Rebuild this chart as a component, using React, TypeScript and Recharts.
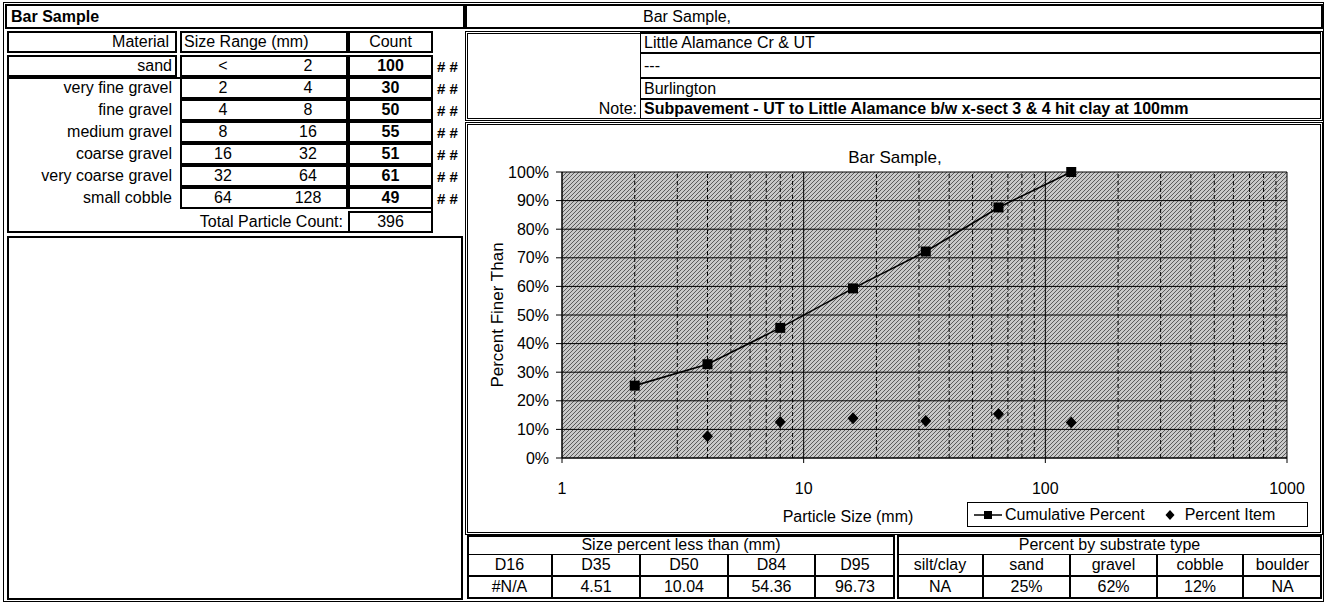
import React from 'react';
import { ComposedChart, Line, XAxis, YAxis, CartesianGrid, ReferenceLine, Legend } from 'recharts';

const FONT = 'Arial, "Liberation Sans", Helvetica, sans-serif';

// ---- data ----
const materials = ['sand', 'very fine gravel', 'fine gravel', 'medium gravel', 'coarse gravel', 'very coarse gravel', 'small cobble'];
const sizeLow = ['<', '2', '4', '8', '16', '32', '64'];
const sizeHigh = ['2', '4', '8', '16', '32', '64', '128'];
const counts = [100, 30, 50, 55, 51, 61, 49];
const totalCount = 396;

const infoLines = ['Little Alamance Cr & UT', '---', 'Burlington'];
const noteText = 'Subpavement - UT to Little Alamance b/w x-sect 3 & 4 hit clay at 100mm';

const sizes = [2, 4, 8, 16, 32, 64, 128];
const cumulativePercent = [25.3, 32.8, 45.5, 59.3, 72.2, 87.6, 100];
const percentItem = [null, 7.6, 12.6, 13.9, 12.9, 15.4, 12.4];

const xTicks = [1, 10, 100, 1000];
const yTicks = [0, 10, 20, 30, 40, 50, 60, 70, 80, 90, 100];
const majorX = [1, 10, 100, 1000];
const minorX = [2, 3, 4, 5, 6, 7, 8, 9, 20, 30, 40, 50, 60, 70, 80, 90, 200, 300, 400, 500, 600, 700, 800, 900];

const dLabels = ['D16', 'D35', 'D50', 'D84', 'D95'];
const dValues = ['#N/A', '4.51', '10.04', '54.36', '96.73'];
const subLabels = ['silt/clay', 'sand', 'gravel', 'cobble', 'boulder'];
const subValues = ['NA', '25%', '62%', '12%', 'NA'];

const chartData = sizes.map((s, i) => ({ size: s, cum: cumulativePercent[i], item: percentItem[i] }));

// ---- helpers ----
type CellProps = {
  x: number; y: number; w: number; h: number; children?: React.ReactNode;
  align?: 'left' | 'right' | 'center'; bold?: boolean; border?: string; pad?: number; size?: number;
};
function Cell({ x, y, w, h, children, align = 'center', bold = false, border = 'none', pad = 3, size = 16 }: CellProps) {
  return (
    <div
      style={{
        position: 'absolute', left: x, top: y, width: w, height: h, boxSizing: 'border-box', border,
        display: 'flex', alignItems: 'center',
        justifyContent: align === 'left' ? 'flex-start' : align === 'right' ? 'flex-end' : 'center',
        padding: `0 ${pad}px`, fontFamily: FONT, fontSize: size, fontWeight: bold ? 'bold' : 'normal',
        whiteSpace: 'nowrap', lineHeight: 1, color: '#000',
      }}
    >
      {children}
    </div>
  );
}

const SquareDot = (props: any) => {
  const { cx, cy, index } = props;
  if (cx == null || cy == null) return <g key={`s${index}`} />;
  return <rect key={`s${index}`} x={cx - 5} y={cy - 5} width={10} height={10} fill="#000" />;
};
const DiamondDot = (props: any) => {
  const { cx, cy, index, value } = props;
  if (cx == null || cy == null || value == null) return <g key={`d${index}`} />;
  return <path key={`d${index}`} d={`M${cx},${cy - 6} L${cx + 5.5},${cy} L${cx},${cy + 6} L${cx - 5.5},${cy} Z`} fill="#000" />;
};

const LegendBox = (props: any) => {
  const payload = props.payload || [];
  return (
    <div style={{ border: '1px solid #000', height: 25, boxSizing: 'border-box', display: 'flex', alignItems: 'center', background: '#fff', fontFamily: FONT, fontSize: 16, paddingLeft: 6 }}>
      {payload.map((p: any, i: number) => (
        <div key={i} style={{ display: 'flex', alignItems: 'center', marginRight: 10 }}>
          {p.dataKey === 'cum' ? (
            <svg width={28} height={12} style={{ marginRight: 3 }}>
              <line x1={0} y1={6} x2={28} y2={6} stroke="#000" strokeWidth={1.5} />
              <rect x={10} y={2} width={8} height={8} fill="#000" />
            </svg>
          ) : (
            <svg width={14} height={12} style={{ marginLeft: 8, marginRight: 8 }}>
              <path d="M7,1 L11.5,6 L7,11 L2.5,6 Z" fill="#000" />
            </svg>
          )}
          <span>{p.value}</span>
        </div>
      ))}
    </div>
  );
};

export default function App() {
  const rowY = (i: number) => 55 + i * 22;
  return (
    <div style={{ position: 'absolute', left: 0, top: 0, width: 1326, height: 605, background: '#fff', overflow: 'hidden' }}>
      <svg width={0} height={0} style={{ position: 'absolute' }}>
        <defs>
          <pattern id="stipple" width={4} height={4} patternUnits="userSpaceOnUse">
            <rect width={4} height={4} fill="#c8c8c8" />
            <path d="M-1,1 l2,-2 M0,4 l4,-4 M3,5 l2,-2" stroke="#5c5c5c" strokeWidth={1} />
          </pattern>
        </defs>
      </svg>

      {/* outer frame */}
      <div style={{ position: 'absolute', left: 3, top: 2, width: 1321, height: 600, border: '1px solid #000', boxSizing: 'border-box' }} />

      {/* top header row */}
      <Cell x={5} y={4} w={460} h={25} align="left" bold pad={4} border="2px solid #000">Bar Sample</Cell>
      <Cell x={465} y={4} w={858} h={25} align="left" pad={0} border="2px solid #000">
        <span style={{ marginLeft: 176 }}>Bar Sample,</span>
      </Cell>

      {/* left table header */}
      <Cell x={7} y={31} w={170} h={22} align="right" pad={6} border="2px solid #000">Material</Cell>
      <Cell x={180} y={31} w={168} h={22} align="left" pad={2} border="2px solid #000">Size Range (mm)</Cell>
      <Cell x={348} y={31} w={85} h={22} border="2px solid #000">Count</Cell>

      {/* material column frames */}
      <Cell x={7} y={55} w={170} h={22} border="2px solid #000" />
      <Cell x={7} y={77} w={426} h={156} border="2px solid #000" />

      {materials.map((m, i) => (
        <React.Fragment key={m}>
          <Cell x={7} y={rowY(i)} w={170} h={22} align="right" pad={5}>{m}</Cell>
          <Cell x={180} y={rowY(i)} w={168} h={22} border="2px solid #000" />
          <Cell x={198} y={rowY(i)} w={50} h={22}>{sizeLow[i]}</Cell>
          <Cell x={283} y={rowY(i)} w={50} h={22}>{sizeHigh[i]}</Cell>
          <Cell x={348} y={rowY(i)} w={85} h={22} bold border="2px solid #000">{counts[i]}</Cell>
          <Cell x={435} y={rowY(i)} w={26} h={22} align="left" pad={2} size={15} bold># #</Cell>
        </React.Fragment>
      ))}
      <Cell x={7} y={211} w={341} h={22} align="right" pad={5}>Total Particle Count:</Cell>
      <Cell x={348} y={211} w={85} h={22} border="2px solid #000">{totalCount}</Cell>

      {/* left empty box */}
      <div style={{ position: 'absolute', left: 7, top: 236, width: 456, height: 364, border: '2px solid #000', boxSizing: 'border-box' }} />

      {/* info block */}
      <div style={{ position: 'absolute', left: 465, top: 31, width: 858, height: 90, border: '3px double #000', boxSizing: 'border-box' }} />
      {infoLines.map((t, i) => {
        const ys = [32, 53, 78];
        const hs = [21, 25, 21];
        return (
          <Cell key={i} x={640} y={ys[i]} w={681} h={hs[i]} align="left" border="1px solid #000">{t}</Cell>
        );
      })}
      <Cell x={468} y={99} w={172} h={20} align="right" pad={3}>Note:</Cell>
      <Cell x={640} y={99} w={681} h={20} align="left" bold border="1px solid #000">{noteText}</Cell>

      {/* chart frame */}
      <div style={{ position: 'absolute', left: 465, top: 122, width: 858, height: 413, border: '3px double #000', boxSizing: 'border-box' }} />
      <div style={{ position: 'absolute', left: 465, top: 122 }}>
        <ComposedChart width={858} height={413} data={chartData} margin={{ top: 50, right: 36, bottom: 0, left: 0 }}>
          <CartesianGrid vertical={false} stroke="#000" strokeWidth={1} fill="url(#stipple)" fillOpacity={1} />
          <XAxis
            dataKey="size" type="number" scale="log" domain={[1, 1000]} ticks={xTicks} allowDataOverflow
            height={77} tickSize={5} tickMargin={20} stroke="#000"
            tick={{ fill: '#000', fontSize: 16, fontFamily: FONT }}
          />
          <YAxis
            type="number" domain={[0, 100]} ticks={yTicks} tickFormatter={(v: number) => `${v}%`}
            width={97} tickSize={6} tickMargin={7} stroke="#000" interval={0}
            tick={{ fill: '#000', fontSize: 16, fontFamily: FONT }}
            label={{ value: 'Percent Finer Than', angle: -90, position: 'insideLeft', offset: 32, style: { textAnchor: 'middle', fill: '#000', fontSize: 17, fontFamily: FONT } }}
          />
          {minorX.map((v) => (
            <ReferenceLine key={`mn${v}`} x={v} stroke="#000" strokeWidth={1} strokeDasharray="4 3" />
          ))}
          {majorX.map((v) => (
            <ReferenceLine key={`mj${v}`} x={v} stroke="#000" strokeWidth={1} />
          ))}
          <Line dataKey="cum" name="Cumulative Percent" stroke="#000" strokeWidth={1.6} dot={SquareDot} isAnimationActive={false} />
          <Line dataKey="item" name="Percent Item" stroke="none" dot={DiamondDot} activeDot={false} isAnimationActive={false} />
          <Legend
            content={LegendBox} layout="horizontal" verticalAlign="middle" align="center"
            wrapperStyle={{ left: 502, top: 380, width: 341, height: 25 }}
          />
        </ComposedChart>
      </div>
      <Cell x={795} y={148} w={200} h={18} size={17}>Bar Sample,</Cell>
      <Cell x={748} y={508} w={200} h={18} size={16}>Particle Size (mm)</Cell>

      {/* bottom left table */}
      <div style={{ position: 'absolute', left: 467, top: 535, width: 428, height: 64, border: '2px solid #000', boxSizing: 'border-box' }} />
      <Cell x={467} y={535} w={428} h={20} border="1px solid #000">Size percent less than (mm)</Cell>
      {dLabels.map((d, i) => {
        const xs = [467, 552, 640, 728, 815, 895];
        return (
          <React.Fragment key={d}>
            <Cell x={xs[i]} y={554} w={xs[i + 1] - xs[i]} h={22} border="1px solid #000">{d}</Cell>
            <Cell x={xs[i]} y={576} w={xs[i + 1] - xs[i]} h={22} border="1px solid #000">{dValues[i]}</Cell>
          </React.Fragment>
        );
      })}

      {/* bottom right table */}
      <div style={{ position: 'absolute', left: 897, top: 535, width: 425, height: 64, border: '2px solid #000', boxSizing: 'border-box' }} />
      <Cell x={897} y={535} w={425} h={20} border="1px solid #000">Percent by substrate type</Cell>
      {subLabels.map((d, i) => {
        const xs = [897, 983, 1070, 1157, 1243, 1322];
        return (
          <React.Fragment key={d}>
            <Cell x={xs[i]} y={554} w={xs[i + 1] - xs[i]} h={22} border="1px solid #000">{d}</Cell>
            <Cell x={xs[i]} y={576} w={xs[i + 1] - xs[i]} h={22} border="1px solid #000">{subValues[i]}</Cell>
          </React.Fragment>
        );
      })}
    </div>
  );
}
